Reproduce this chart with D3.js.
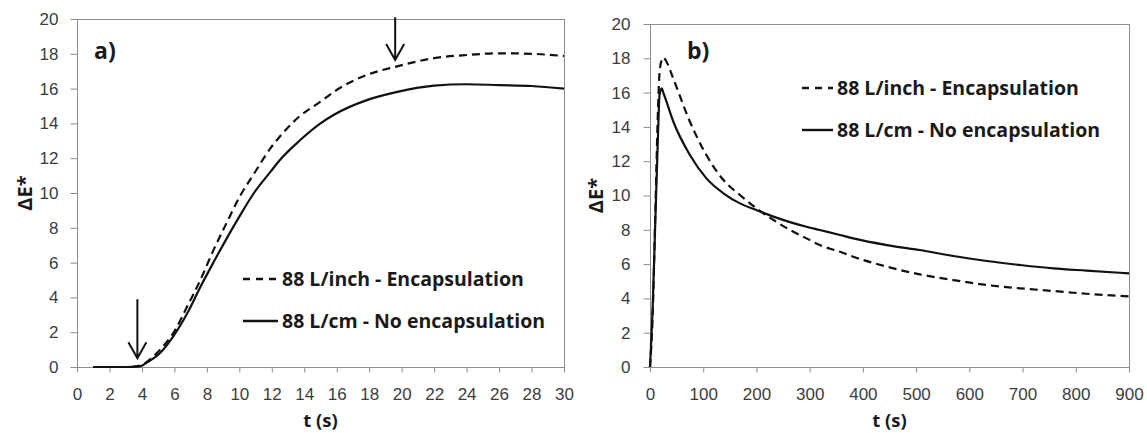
<!DOCTYPE html>
<html>
<head>
<meta charset="utf-8">
<script src="https://d3js.org/d3.v7.min.js"></script>
<style>
body{margin:0;background:#fff;}
svg{display:block;font-family:"Open Sans",sans-serif;}
.tick text{font-size:17px;fill:#3c3c3c;}
.tick line{stroke:#8c8c8c;}
.ttl{font-weight:bold;fill:#1a1a1a;}
</style>
</head>
<body>
<svg id="chart" width="1147" height="433"></svg>
<script>
// panel a) : onset of colour change
var timeA    = [1, 2, 3, 3.9, 4.3, 5.1, 5.9, 6.8, 7.6, 8.4, 9.2, 10, 10.9, 11.9, 12.5, 13.7, 15, 15.8, 17.9, 19.6, 22, 24, 26, 28, 30];
var encapA   = [0, 0, 0, 0.08, 0.3, 0.98, 1.9, 3.5, 5.0, 6.7, 8.25, 9.75, 11.1, 12.55, 13.25, 14.4, 15.25, 15.8, 16.8, 17.25, 17.75, 17.93, 18.03, 18.0, 17.87];
var noEncapA = [0, 0, 0, 0.04, 0.25, 0.79, 1.72, 3.1, 4.6, 6.0, 7.35, 8.64, 10.0, 11.2, 11.9, 13.0, 14.0, 14.48, 15.35, 15.78, 16.17, 16.25, 16.2, 16.15, 16.0];
var xTicksA  = [0, 2, 4, 6, 8, 10, 12, 14, 16, 18, 20, 22, 24, 26, 28, 30];

// panel b) : full run
var timeB    = [0, 5, 10, 15, 18, 22, 25, 31, 44, 75, 106, 138, 169, 200, 232, 263, 294, 319, 357, 382, 445, 507, 570, 633, 695, 758, 820, 900];
var encapB   = [0, 3, 9, 15, 17.2, 17.9, 18.05, 17.8, 16.8, 14.3, 12.36, 10.9, 10.03, 9.25, 8.57, 7.99, 7.5, 7.11, 6.72, 6.43, 5.85, 5.4, 5.07, 4.78, 4.59, 4.43, 4.27, 4.12];
var noEncapB = [0, 3.5, 8.5, 13.5, 15.9, 16.25, 16.0, 15.47, 14.3, 12.36, 11.0, 10.13, 9.54, 9.15, 8.77, 8.45, 8.18, 7.99, 7.7, 7.5, 7.11, 6.82, 6.47, 6.18, 5.95, 5.75, 5.62, 5.46];
var xTicksB  = [0, 100, 200, 300, 400, 500, 600, 700, 800, 900];

var yTicks = [0, 2, 4, 6, 8, 10, 12, 14, 16, 18, 20];
var seriesNames = ["88 L/inch - Encapsulation", "88 L/cm - No encapsulation"];
// arrows in panel a): [t, from, to]
var arrowsA = [[3.72, 3.9, 0.5], [19.6, 20.1, 17.65]];

var svg = d3.select("#chart");
var dash = "8,5";

function drawPanel(p) {
  var x = d3.scaleLinear().domain(p.xDomain).range([p.left, p.right]);
  var y = d3.scaleLinear().domain([0, 20]).range([p.bottom, p.top]);
  var g = svg.append("g");

  g.append("rect")
    .attr("x", p.left + 0.5).attr("y", p.top + 0.5)
    .attr("width", p.right - p.left).attr("height", p.bottom - p.top)
    .attr("fill", "none").attr("stroke", "#8c8c8c");

  var ya = g.append("g").attr("transform", "translate(" + (p.left + 0.5) + ",0)")
    .call(d3.axisLeft(y).tickValues(yTicks).tickSize(7).tickPadding(p.ypad));
  ya.select(".domain").remove();

  var xa = g.append("g").attr("transform", "translate(0," + (p.bottom + 0.5) + ")")
    .call(d3.axisBottom(x).tickValues(p.xTicks).tickSize(5).tickPadding(15));
  xa.select(".domain").remove();

  g.append("text").attr("class", "ttl")
    .attr("x", (p.left + p.right) / 2).attr("y", 427)
    .attr("text-anchor", "middle").style("font-size", "18.5px").text("t (s)");
  g.append("text").attr("class", "ttl")
    .attr("transform", "translate(" + p.ytx + "," + (p.top + p.bottom) / 2 + ") rotate(-90)")
    .attr("text-anchor", "middle").style("font-size", "20px").text("ΔE*");
  g.append("text").attr("class", "ttl")
    .attr("x", p.tagX).attr("y", 59).style("font-size", "23px").text(p.tag);

  var line = d3.line()
    .x(function (d) { return x(d[0]); })
    .y(function (d) { return y(d[1]); })
    .curve(d3.curveMonotoneX);

  var sets = [d3.zip(p.time, p.encap), d3.zip(p.time, p.noEncap)];
  g.selectAll(".series").data(sets).enter().append("path")
    .attr("class", "series")
    .attr("d", line)
    .attr("fill", "none").attr("stroke", "#111")
    .attr("stroke-width", 2.2)
    .attr("stroke-dasharray", function (d, i) { return i === 0 ? dash : null; });

  // legend
  var lg = g.append("g").attr("transform", "translate(" + p.legX + "," + p.legY + ")");
  seriesNames.forEach(function (name, i) {
    lg.append("line").attr("x1", 0).attr("x2", p.legLen).attr("y1", i * 42).attr("y2", i * 42)
      .attr("stroke", "#111").attr("stroke-width", 2.4)
      .attr("stroke-dasharray", i === 0 ? "7,6" : null);
    lg.append("text").attr("class", "ttl").attr("x", p.legLen + 4).attr("y", i * 42 + 7)
      .style("font-size", "19.5px").text(name);
  });

  (p.arrows || []).forEach(function (a) {
    var ax = x(a[0]), y1 = y(a[1]), y2 = y(a[2]);
    g.append("path")
      .attr("d", "M" + ax + "," + y1 + "V" + y2 + "M" + (ax - 9) + "," + (y2 - 16) + "L" + ax + "," + y2 + "L" + (ax + 9) + "," + (y2 - 16))
      .attr("fill", "none").attr("stroke", "#111").attr("stroke-width", 2);
  });
}

drawPanel({
  left: 77, right: 564, top: 19, bottom: 367, xDomain: [0, 30], xTicks: xTicksA, ypad: 12,
  time: timeA, encap: encapA, noEncap: noEncapA, ytx: 32, tag: "a)", tagX: 94,
  legX: 243, legY: 279, legLen: 35, arrows: arrowsA
});
drawPanel({
  left: 650, right: 1129, top: 24, bottom: 367, xDomain: [0, 900], xTicks: xTicksB, ypad: 13,
  time: timeB, encap: encapB, noEncap: noEncapB, ytx: 603, tag: "b)", tagX: 687,
  legX: 802, legY: 88, legLen: 31
});
</script>
</body>
</html>
